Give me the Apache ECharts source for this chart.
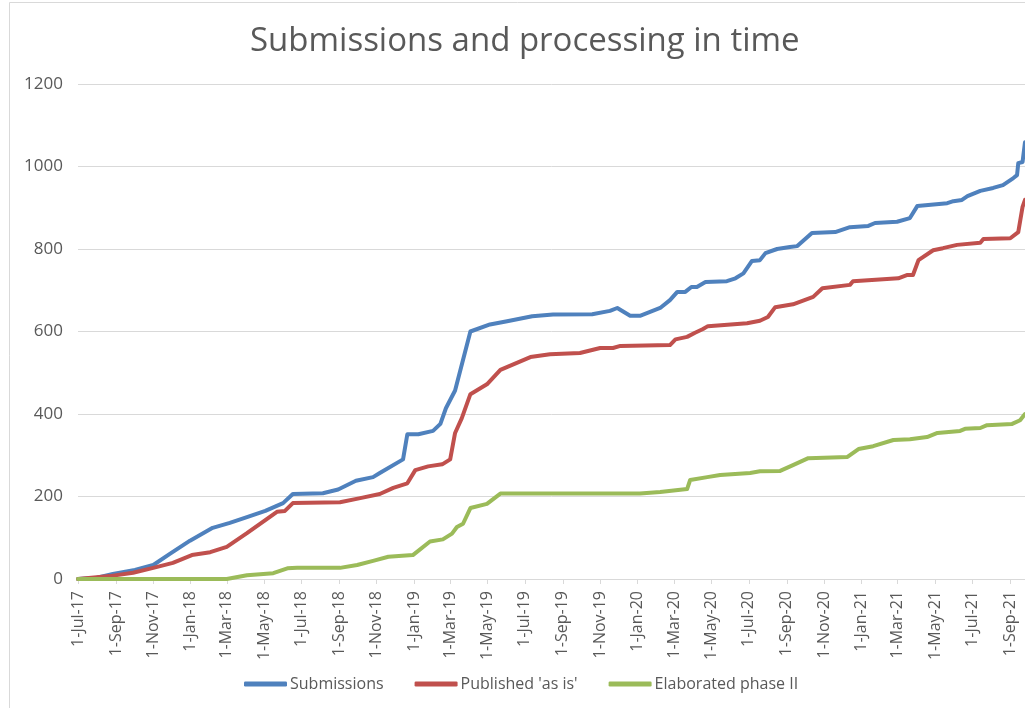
<!DOCTYPE html>
<html>
<head>
<meta charset="utf-8">
<script src="https://cdn.jsdelivr.net/npm/echarts@6/dist/echarts.min.js"></script>
<style>
html, body { margin: 0; padding: 0; background: #fff; }
#chart { width: 1025px; height: 708px; }
</style>
</head>
<body>
<div id="chart"></div>
<script>
// tick dates on the x axis (every other month)
const tickDates = [
  '2017-07-01', '2017-09-01', '2017-11-01', '2018-01-01', '2018-03-01', '2018-05-01',
  '2018-07-01', '2018-09-01', '2018-11-01', '2019-01-01', '2019-03-01', '2019-05-01',
  '2019-07-01', '2019-09-01', '2019-11-01', '2020-01-01', '2020-03-01', '2020-05-01',
  '2020-07-01', '2020-09-01', '2020-11-01', '2021-01-01', '2021-03-01', '2021-05-01',
  '2021-07-01', '2021-09-01'
]
const yTicks = [0, 200, 400, 600, 800, 1000, 1200]
const monthNames = ['Jan', 'Feb', 'Mar', 'Apr', 'May', 'Jun', 'Jul', 'Aug', 'Sep', 'Oct', 'Nov', 'Dec']

const seriesNames = ['Submissions', "Published 'as is'", 'Elaborated phase II']

const submissions = [
  ['2017-07-01', 0], ['2017-08-01', 3], ['2017-08-27', 12], ['2017-10-02', 22],
  ['2017-11-01', 34], ['2017-11-28', 61], ['2017-12-31', 93], ['2018-02-06', 124],
  ['2018-03-06', 136], ['2018-04-03', 150], ['2018-05-03', 165], ['2018-06-01', 184],
  ['2018-06-17', 206], ['2018-08-05', 208], ['2018-08-30', 217], ['2018-09-28', 238],
  ['2018-10-26', 247], ['2018-11-06', 257], ['2018-12-14', 290], ['2018-12-21', 351],
  ['2019-01-08', 351], ['2019-02-01', 359], ['2019-02-13', 376], ['2019-02-22', 414],
  ['2019-03-09', 457], ['2019-04-03', 600], ['2019-05-05', 617], ['2019-06-02', 625],
  ['2019-07-13', 637], ['2019-08-16', 641], ['2019-10-19', 642], ['2019-11-17', 650],
  ['2019-11-29', 657], ['2019-12-20', 638], ['2020-01-05', 638], ['2020-02-07', 657],
  ['2020-02-23', 676], ['2020-03-06', 696], ['2020-03-19', 696], ['2020-03-29', 708],
  ['2020-04-07', 708], ['2020-04-21', 720], ['2020-05-26', 722], ['2020-06-09', 729],
  ['2020-06-22', 741], ['2020-07-06', 771], ['2020-07-19', 773], ['2020-07-28', 790],
  ['2020-08-16', 800], ['2020-09-06', 805], ['2020-09-18', 807], ['2020-10-12', 839],
  ['2020-11-19', 841], ['2020-12-13', 853], ['2021-01-12', 856], ['2021-01-23', 863],
  ['2021-02-28', 866], ['2021-03-21', 875], ['2021-04-02', 904], ['2021-05-21', 911],
  ['2021-05-31', 916], ['2021-06-14', 919], ['2021-06-23', 928], ['2021-07-14', 941],
  ['2021-08-04', 948], ['2021-08-20', 955], ['2021-09-06', 972], ['2021-09-12', 979],
  ['2021-09-14', 1008], ['2021-09-21', 1011], ['2021-09-25', 1059]
]

const published = [
  ['2017-07-01', 0], ['2017-08-22', 7], ['2017-09-29', 15], ['2017-11-01', 27],
  ['2017-12-03', 39], ['2018-01-03', 58], ['2018-02-02', 65], ['2018-03-01', 78],
  ['2018-04-03', 111], ['2018-05-03', 143], ['2018-05-22', 163], ['2018-06-04', 165],
  ['2018-06-17', 184], ['2018-09-02', 186], ['2018-10-05', 196], ['2018-11-06', 206],
  ['2018-11-28', 221], ['2018-12-21', 232], ['2019-01-03', 264], ['2019-01-24', 273],
  ['2019-02-16', 278], ['2019-03-01', 290], ['2019-03-09', 354], ['2019-03-20', 390],
  ['2019-04-03', 448], ['2019-04-30', 472], ['2019-05-22', 507], ['2019-07-10', 538],
  ['2019-08-11', 545], ['2019-09-29', 548], ['2019-11-01', 560], ['2019-11-22', 560],
  ['2019-12-04', 565], ['2020-02-23', 567], ['2020-03-03', 581], ['2020-03-22', 587],
  ['2020-04-04', 597], ['2020-04-17', 606], ['2020-04-25', 613], ['2020-06-28', 620],
  ['2020-07-19', 626], ['2020-08-01', 635], ['2020-08-13', 659], ['2020-09-11', 666],
  ['2020-10-14', 684], ['2020-10-29', 705], ['2020-12-13', 713], ['2020-12-18', 722],
  ['2021-03-02', 729], ['2021-03-17', 737], ['2021-03-26', 737], ['2021-04-04', 773],
  ['2021-04-28', 797], ['2021-05-14', 802], ['2021-06-06', 810], ['2021-07-14', 815],
  ['2021-07-19', 824], ['2021-09-01', 826], ['2021-09-14', 841], ['2021-09-21', 902],
  ['2021-09-25', 919]
]

const elaborated = [
  ['2017-07-01', 0], ['2018-03-01', 0], ['2018-04-03', 9], ['2018-05-16', 14],
  ['2018-06-08', 26], ['2018-06-24', 27], ['2018-09-02', 27], ['2018-09-30', 34],
  ['2018-10-26', 44], ['2018-11-20', 54], ['2018-12-30', 58], ['2019-01-27', 91],
  ['2019-02-17', 96], ['2019-03-04', 110], ['2019-03-12', 126], ['2019-03-22', 134],
  ['2019-04-03', 172], ['2019-04-30', 182], ['2019-05-22', 207], ['2020-01-05', 207],
  ['2020-02-07', 211], ['2020-03-22', 218], ['2020-03-27', 240], ['2020-04-24', 247],
  ['2020-05-15', 252], ['2020-07-03', 257], ['2020-07-19', 261], ['2020-08-21', 262],
  ['2020-09-11', 276], ['2020-10-06', 293], ['2020-12-09', 296], ['2020-12-27', 315],
  ['2021-01-20', 322], ['2021-02-22', 337], ['2021-03-21', 339], ['2021-04-18', 344],
  ['2021-05-05', 354], ['2021-06-11', 359], ['2021-06-19', 364], ['2021-07-14', 366],
  ['2021-07-25', 373], ['2021-09-04', 376], ['2021-09-17', 385], ['2021-09-25', 400]
]

const colors = ['#4f81bd', '#c0504d', '#9bbb59']
const textColor = '#595959'
const gridColor = '#d9d9d9'
const font = "'Open Sans', 'Liberation Sans', sans-serif"

const parse = d => +echarts.number.parseDate(d)
const toPoints = arr => arr.map(p => [parse(p[0]), p[1]])

function formatDate(v) {
  const d = new Date(v)
  return d.getDate() + '-' + monthNames[d.getMonth()] + '-' + String(d.getFullYear()).slice(2)
}

const chart = echarts.init(document.getElementById('chart'), null, { renderer: 'canvas' })

const option = {
  backgroundColor: '#fff',
  animation: false,
  color: colors,
  title: {
    text: 'Submissions and processing in time',
    left: 250,
    top: 25,
    padding: 0,
    textStyle: {
      fontFamily: font,
      fontSize: 33,
      fontWeight: 'normal',
      color: textColor
    }
  },
  legend: {
    data: seriesNames,
    left: 239,
    top: 671,
    icon: 'roundRect',
    itemWidth: 43,
    itemHeight: 5,
    itemGap: 31,
    textStyle: {
      fontFamily: font,
      fontSize: 16,
      color: textColor,
      padding: [0, 0, 0, -2]
    }
  },
  graphic: [{
    type: 'rect',
    shape: { x: 9.5, y: 2.5, width: 1100, height: 800 },
    style: { fill: null, stroke: gridColor, lineWidth: 1 },
    silent: true
  }],
  grid: {
    left: 78,
    right: 0,
    top: 84,
    bottom: 129,
    outerBoundsMode: 'none'
  },
  xAxis: {
    type: 'value',
    min: parse('2017-07-01'),
    max: parse('2021-09-25'),
    splitLine: { show: false },
    axisLine: { lineStyle: { color: gridColor, width: 1 } },
    axisTick: {
      show: true,
      length: 5,
      customValues: tickDates.map(parse),
      lineStyle: { color: gridColor }
    },
    axisLabel: {
      rotate: 90,
      margin: 12,
      customValues: tickDates.map(parse),
      formatter: formatDate,
      fontFamily: font,
      fontSize: 16,
      color: textColor
    }
  },
  yAxis: {
    type: 'value',
    min: 0,
    max: yTicks[yTicks.length - 1],
    interval: 200,
    axisLine: { show: false },
    axisTick: { show: false },
    splitLine: { lineStyle: { color: gridColor, width: 1 } },
    axisLabel: {
      margin: 15,
      formatter: v => String(v),
      fontFamily: font,
      fontSize: 17,
      color: textColor
    }
  },
  series: [submissions, published, elaborated].map((arr, i) => ({
    name: seriesNames[i],
    type: 'line',
    data: toPoints(arr),
    showSymbol: false,
    symbol: 'none',
    lineStyle: { width: 4, color: colors[i], join: 'round', cap: 'round' },
    itemStyle: { color: colors[i] }
  }))
}

chart.setOption(option)
</script>
</body>
</html>
